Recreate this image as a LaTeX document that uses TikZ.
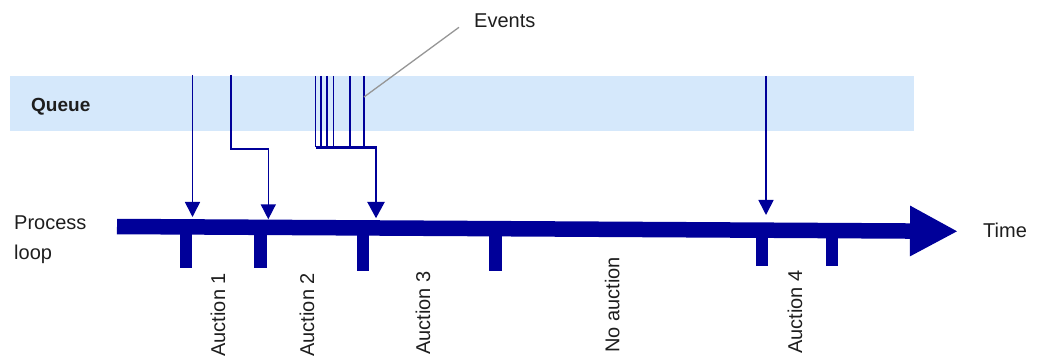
\documentclass[tikz,border=0pt]{standalone}
\usepackage{fontspec}
\setmainfont{Liberation Sans}
\usetikzlibrary{arrows.meta}
\definecolor{loopblue}{RGB}{0,0,153}
\definecolor{queuebg}{RGB}{213,232,251}
\definecolor{leadgray}{RGB}{150,150,150}
\definecolor{inkgray}{RGB}{30,30,30}
\begin{document}
\begin{tikzpicture}[x=1pt, y=-1pt,
  txt/.style={inner sep=0, text=inkgray, font=\fontsize{20}{30}\selectfont},
  vtxt/.style={txt, rotate=90, anchor=base west},
  loopline/.style={draw=loopblue, line width=15.5pt, -{Triangle[length=48pt,width=47pt]}},
  tickbar/.style={fill=loopblue},
  evline/.style={draw=loopblue, line width=1.6pt},
  evarrow/.style={evline, -{Triangle[length=15pt,width=15pt]}},
  evthin/.style={draw=loopblue, line width=1.3pt},
  evjoin/.style={draw=loopblue, line width=2.8pt, -{Triangle[length=16.5pt,width=17pt]}},
  leader/.style={draw=leadgray, line width=1.3pt}]
\useasboundingbox (0,0) rectangle (1038,358);
\fill[queuebg] (10,76) rectangle (914,131);
\node[txt, anchor=base west, font=\fontsize{19}{24}\selectfont\bfseries] (queue) at (31,111.7) {Queue};
\node[txt, anchor=north west, align=left] (proc) at (14,215.5) {Process\\loop};
\node[txt, anchor=base west] (time) at (983,237.5) {Time};
\node[txt, anchor=base west] (events) at (474,27.3) {Events};
\coordinate (lp0) at (117,226.5);
\coordinate (lp1) at (958,231.3);
\draw[loopline] (lp0) -- (lp1);
\fill[tickbar] (180,227) rectangle (192.3,268);
\fill[tickbar] (254,227.3) rectangle (266.7,268);
\fill[tickbar] (357,227.8) rectangle (369,270.7);
\fill[tickbar] (489,228.5) rectangle (501.7,270.7);
\fill[tickbar] (756,229.8) rectangle (768,266);
\fill[tickbar] (826,230.2) rectangle (838,266);
\node[vtxt] (auc1) at (225,356.7) {Auction 1};
\node[vtxt] (auc2) at (314,356.7) {Auction 2};
\node[vtxt] (auc3) at (430,355) {Auction 3};
\node[vtxt] (noauc) at (619.3,352.7) {No auction};
\node[vtxt] (auc4) at (802,354) {Auction 4};
\coordinate (ev1) at (192.5,75);
\coordinate (hit1) at (192.5,217);
\draw[evarrow] (ev1) -- (hit1);
\coordinate (ev2) at (231,75);
\coordinate (ev2a) at (231,149);
\coordinate (ev2b) at (268.3,149);
\coordinate (hit2) at (268.3,219.3);
\draw[evarrow] (ev2) -- (ev2a) -- (ev2b) -- (hit2);
\coordinate (ev3) at (315.7,76);
\coordinate (ev3b) at (315.7,147.3);
\coordinate (ev4) at (321,76);
\coordinate (ev4b) at (321,147.3);
\coordinate (ev5) at (327,76);
\coordinate (ev5b) at (327,147.3);
\coordinate (ev6) at (333.3,76);
\coordinate (ev6b) at (333.3,147.3);
\coordinate (ev7) at (350,76);
\coordinate (ev7b) at (350,147.3);
\coordinate (ev8) at (364,76);
\coordinate (ev8b) at (364,147.3);
\draw[evthin] (ev3) -- (ev3b);
\draw[evthin] (ev4) -- (ev4b);
\draw[evthin] (ev5) -- (ev5b);
\draw[evthin] (ev6) -- (ev6b);
\draw[evthin] (ev7) -- (ev7b);
\draw[evthin] (ev8) -- (ev8b);
\coordinate (join) at (376,147.3);
\coordinate (hit3) at (376,218.3);
\draw[evjoin] (ev3b) -- (join) -- (hit3);
\coordinate (ev9) at (766,76);
\coordinate (hit4) at (766,215);
\draw[evarrow] (ev9) -- (hit4);
\coordinate (evhit) at (364,97);
\coordinate (evtag) at (459,27.3);
\draw[leader] (evhit) -- (evtag);
\end{tikzpicture}
\end{document}
